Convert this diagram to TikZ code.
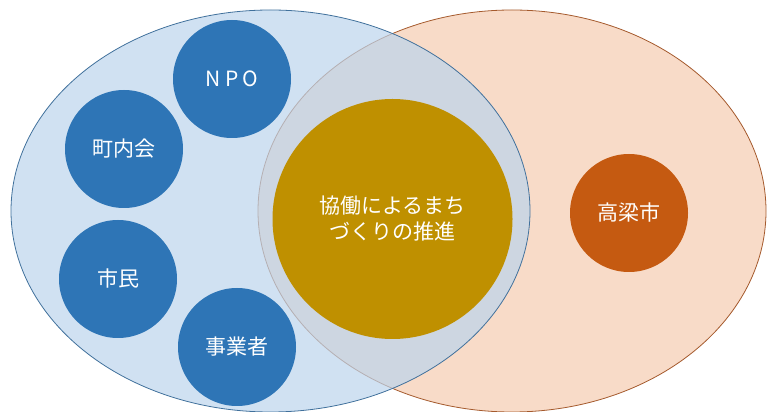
\documentclass[tikz,border=0pt]{standalone}
\usepackage{fontspec}
\usepackage{xcolor}
\usepackage{tikz}
\usetikzlibrary{shapes.geometric}
\newfontfamily\jpfont{Noto Sans CJK JP}

\definecolor{blueback}{RGB}{188,212,236}
\definecolor{blueline}{RGB}{65,113,156}
\definecolor{orangeback}{RGB}{248,219,200}
\definecolor{orangeline}{RGB}{165,90,45}
\definecolor{bluedot}{RGB}{46,117,182}
\definecolor{golddot}{RGB}{191,144,0}
\definecolor{rustdot}{RGB}{197,90,17}

\begin{document}
\begin{tikzpicture}[x=1pt, y=1pt,
        blob/.style={ellipse, inner sep=0pt, line width=0.8pt},
        dot/.style={circle, inner sep=0pt, minimum size=118pt, text=white,
            font=\jpfont\fontsize{21}{26}\selectfont, align=center}]
        \useasboundingbox (0,0) rectangle (768,412);
        \clip (0,0) rectangle (768,412);

        % the two big areas
        \node[blob, draw=orangeline, fill=orangeback,
            minimum width=508pt, minimum height=402pt] (cityarea) at (512,201) {};
        \node[blob, draw=blueline, fill=blueback, fill opacity=0.7,
            minimum width=519pt, minimum height=402pt] (citizenarea) at (270.5,201) {};

        % left side
        \node[dot, fill=bluedot] (npo) at (232,333) {N\hspace{4pt}P\hspace{4pt}O};
        \node[dot, fill=bluedot] (chonaikai) at (124,263) {町内会};
        \node[dot, fill=bluedot] (shimin)    at (118,133) {市民};
        \node[dot, fill=bluedot] (jigyosha)  at (237,65)  {事業者};

        % middle
        \node[dot, fill=golddot, minimum size=240pt] (kyodo) at (392.5,193) {協働によるまち\\づくりの推進};

        % right side
        \node[dot, fill=rustdot] (takahashi) at (629,199) {高梁市};
    \end{tikzpicture}
\end{document}
